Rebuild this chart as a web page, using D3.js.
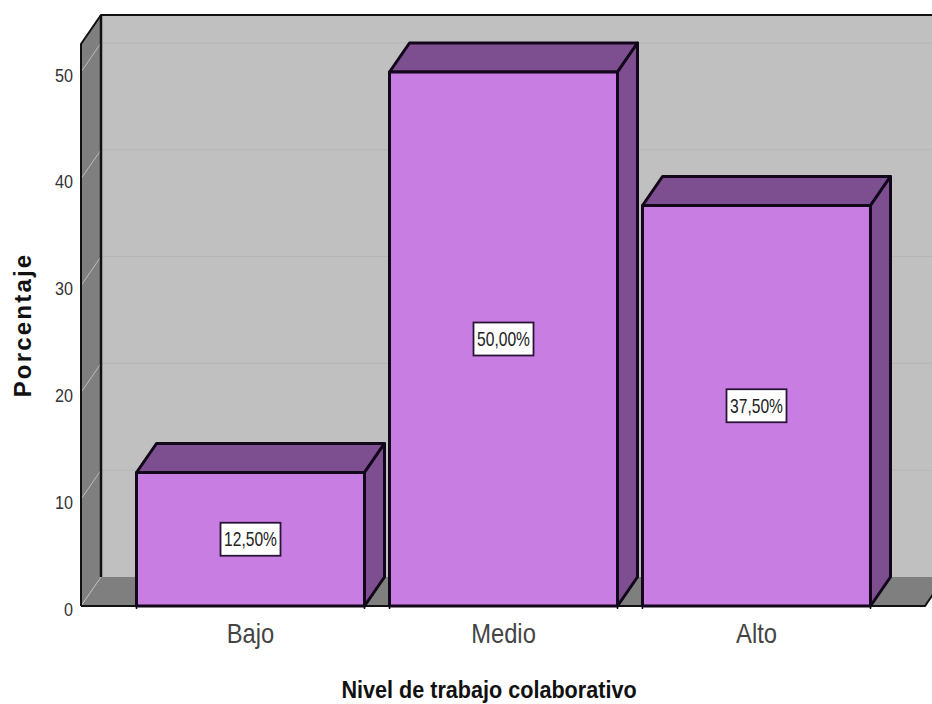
<!DOCTYPE html>
<html>
<head>
<meta charset="utf-8">
<script src="https://cdn.jsdelivr.net/npm/d3@7"></script>
<style>
html, body { margin: 0; padding: 0; background: #fff; }
svg { display: block; }
text { font-family: "Liberation Sans", Arial, sans-serif; }
</style>
</head>
<body>
<div id="chart"></div>
<script>
// Nivel de trabajo colaborativo: percentage by level, as 3D-style columns
const categories = ["Bajo", "Medio", "Alto"];
const percentages = [12.5, 50, 37.5];
const valueTicks = [0, 10, 20, 30, 40, 50];
const xTitle = "Nivel de trabajo colaborativo";
const yTitle = "Porcentaje";

const width = 932, height = 704;
const depthX = 20, depthY = -29;
const frontLeft = 81, frontRight = 925;

const y = d3.scaleLinear().domain([0, 50]).range([606, 72]);
const x = d3.scaleBand().domain(categories).range([124, 883])
  .paddingInner(25 / 253).paddingOuter(12.5 / 253);

const svg = d3.select("#chart").append("svg")
  .attr("width", width).attr("height", height);

const wallTop = y(50) - 28;
const poly = pts => pts.map(p => p.join(",")).join(" ");
const rows = categories.map((c, i) => ({ c, v: percentages[i] }));

// Back wall
svg.append("rect")
  .attr("x", frontLeft + depthX).attr("y", wallTop + depthY)
  .attr("width", width - frontLeft - depthX).attr("height", y(0) - wallTop)
  .attr("fill", "#c0c0c0");

// Left wall
svg.append("polygon")
  .attr("points", poly([[frontLeft, wallTop], [frontLeft + depthX, wallTop + depthY],
    [frontLeft + depthX, y(0) + depthY], [frontLeft, y(0)]]))
  .attr("fill", "#7f7f7f");

// Floor
svg.append("polygon")
  .attr("points", poly([[frontLeft, y(0)], [frontLeft + depthX, y(0) + depthY],
    [frontRight + depthX, y(0) + depthY], [frontRight, y(0)]]))
  .attr("fill", "#7f7f7f");

// Gridlines across the back wall and the left wall
const grid = svg.append("g");
grid.selectAll(".back").data(valueTicks.slice(1)).join("line")
  .attr("class", "back")
  .attr("x1", frontLeft + depthX).attr("x2", width)
  .attr("y1", d => y(d) + depthY).attr("y2", d => y(d) + depthY)
  .attr("stroke", "#b5b5b5").attr("stroke-width", 1);
grid.selectAll(".side").data(valueTicks).join("line")
  .attr("class", "side")
  .attr("x1", frontLeft).attr("x2", frontLeft + depthX)
  .attr("y1", d => y(d)).attr("y2", d => y(d) + depthY)
  .attr("stroke", "#bcbcbc").attr("stroke-width", 1);

// Frame edges
const frame = svg.append("g").attr("fill", "none").attr("stroke", "#111");
frame.append("path")
  .attr("d", `M${frontLeft},${y(0)}V${wallTop}L${frontLeft + depthX},${wallTop + depthY}H${width}`)
  .attr("stroke-width", 2);
frame.append("path")
  .attr("d", `M${frontLeft + depthX},${wallTop + depthY}V${y(0) + depthY}`)
  .attr("stroke-width", 2.5);
frame.append("path")
  .attr("d", `M${frontLeft},${y(0)}H${frontRight}L${frontRight + depthX},${y(0) + depthY}`)
  .attr("stroke-width", 2);

// Columns: top, side and front faces
const bars = svg.selectAll(".bar").data(rows)
  .join("g").attr("class", "bar")
  .attr("stroke", "#12061a").attr("stroke-width", 3).attr("stroke-linejoin", "round");

bars.append("polygon")
  .attr("points", d => {
    const l = x(d.c), r = l + x.bandwidth(), t = y(d.v);
    return poly([[l, t], [l + depthX, t + depthY], [r + depthX, t + depthY], [r, t]]);
  })
  .attr("fill", "#7e4f90");
bars.append("polygon")
  .attr("points", d => {
    const r = x(d.c) + x.bandwidth(), t = y(d.v);
    return poly([[r, t], [r + depthX, t + depthY], [r + depthX, y(0) + depthY], [r, y(0)]]);
  })
  .attr("fill", "#7e4f90");
bars.append("rect")
  .attr("x", d => x(d.c)).attr("y", d => y(d.v))
  .attr("width", x.bandwidth()).attr("height", d => y(0) - y(d.v))
  .attr("fill", "#c87de2");

// Short ticks under the column edges
bars.selectAll(".edge").data(d => [x(d.c), x(d.c) + x.bandwidth()]).join("line")
  .attr("class", "edge")
  .attr("x1", d => d).attr("x2", d => d)
  .attr("y1", y(0)).attr("y2", y(0) + 3)
  .attr("stroke-width", 1.5);

// Value labels in boxes at the middle of each column
const labels = svg.selectAll(".value").data(rows)
  .join("g").attr("class", "value")
  .attr("transform", d => `translate(${x(d.c) + x.bandwidth() / 2},${(y(d.v) + y(0)) / 2})`);
labels.append("rect")
  .attr("x", -30).attr("y", -16.5).attr("width", 60).attr("height", 33)
  .attr("fill", "#fff").attr("stroke", "#2a1436").attr("stroke-width", 1.8);
labels.append("text")
  .attr("text-anchor", "middle").attr("dy", "0.36em")
  .attr("transform", "scale(0.78,1)")
  .attr("font-size", 20).attr("fill", "#222")
  .text(d => d.v.toFixed(2).replace(".", ",") + "%");

// Axes
const yAxis = svg.append("g").attr("transform", "translate(73,3)")
  .call(d3.axisLeft(y).tickValues(valueTicks).tickSize(0).tickPadding(0));
yAxis.select(".domain").remove();
yAxis.selectAll("text")
  .attr("transform", "scale(0.85,1)")
  .attr("font-size", 19).attr("fill", "#333")
  .style("font-family", '"Liberation Sans", Arial, sans-serif');

const xAxis = svg.append("g").attr("transform", "translate(0,606)")
  .call(d3.axisBottom(x).tickSize(0).tickPadding(18));
xAxis.select(".domain").remove();
xAxis.selectAll("text")
  .attr("transform", "scale(0.88,1)")
  .attr("font-size", 27).attr("fill", "#444")
  .style("font-family", '"Liberation Sans", Arial, sans-serif');

// Axis titles
svg.append("text")
  .attr("transform", "translate(489,698) scale(0.9,1)")
  .attr("text-anchor", "middle").attr("font-size", 24).attr("font-weight", "bold")
  .attr("fill", "#111").text(xTitle);
svg.append("text")
  .attr("transform", "translate(31,325) rotate(-90)")
  .attr("text-anchor", "middle").attr("font-size", 24).attr("font-weight", "bold")
  .attr("letter-spacing", 2.2)
  .attr("fill", "#111").text(yTitle);
</script>
</body>
</html>
